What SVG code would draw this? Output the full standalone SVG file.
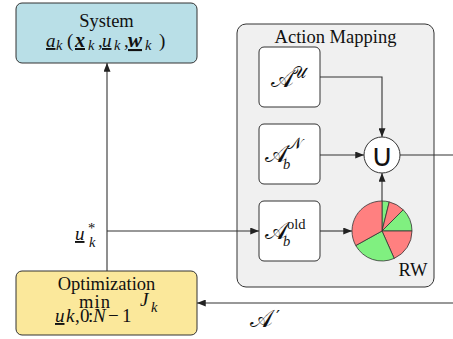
<svg xmlns="http://www.w3.org/2000/svg" width="453" height="339" viewBox="0 0 453 339">
  <defs>
    <marker id="arrow" viewBox="0 0 10 8" refX="10" refY="4" markerWidth="9" markerHeight="7" markerUnits="userSpaceOnUse" orient="auto">
      <path d="M0,0 L10,4 L0,8 z" fill="#222"/>
    </marker>
    <style>
      .txt { font-family: "Liberation Serif", "DejaVu Serif", serif; font-size: 18.5px; fill: #111; }
      .m { font-family: "Liberation Serif", "DejaVu Serif", serif; font-style: italic; font-size: 19px; fill: #111; }
      .cal { font-family: "DejaVu Sans", "Liberation Serif", serif; font-style: normal; font-size: 24px; }
      .calsup { font-family: "DejaVu Sans", "Liberation Serif", serif; font-style: normal; font-size: 16px; }
      .up { font-style: normal; }
      .sub { font-size: 14.5px; }
      .ul { text-decoration: underline; }
      .b { font-weight: bold; }
      .conn { fill: none; stroke: #333; stroke-width: 1.1; }
      .box { fill: #fff; stroke: #333; stroke-width: 1; }
      .red { fill: #ff8080; stroke: #333; stroke-width: 0.8; }
      .green { fill: #80f080; stroke: #333; stroke-width: 0.8; }
    </style>
  </defs>

  <!-- Action mapping container -->
  <g id="action-mapping">
    <rect x="237" y="24" width="197" height="263" rx="9" fill="#f0f0f0" stroke="#333" stroke-width="1"/>
    <text class="txt" x="335.5" y="43" text-anchor="middle">Action Mapping</text>
    <text class="txt" x="413" y="276" text-anchor="middle" font-size="19.5">RW</text>
  </g>

  <!-- Connectors -->
  <g id="connectors">
    <path class="conn" d="M107,271 V63" marker-end="url(#arrow)"/>
    <path class="conn" d="M107,231 H259" marker-end="url(#arrow)"/>
    <path class="conn" d="M320,77 H382 V137" marker-end="url(#arrow)"/>
    <path class="conn" d="M320,155 H364" marker-end="url(#arrow)"/>
    <path class="conn" d="M400,155 H453"/>
    <path class="conn" d="M382,201 V173" marker-end="url(#arrow)"/>
    <path class="conn" d="M320,231 H352" marker-end="url(#arrow)"/>
    <path class="conn" d="M453,303 H197" marker-end="url(#arrow)" stroke="#555"/>
  </g>

  <!-- System -->
  <g id="system">
    <rect x="16" y="3" width="181" height="60" rx="6" fill="#b9dfe7" stroke="#333" stroke-width="1"/>
    <text class="txt" x="106.5" y="27" text-anchor="middle">System</text>
    <text class="m" y="47"><tspan class="ul" x="46">a</tspan><tspan class="sub" x="56" y="50">k</tspan><tspan class="up" x="67" y="47">(</tspan><tspan class="ul b" x="75" font-size="20">x</tspan><tspan class="sub" x="88" y="50">k</tspan><tspan class="up" x="98" y="47">,</tspan><tspan class="ul" x="102">u</tspan><tspan class="sub" x="114" y="50">k</tspan><tspan class="up" x="124" y="47">,</tspan><tspan class="ul b" x="128" font-size="21">w</tspan><tspan class="sub" x="145" y="50">k</tspan><tspan class="up" x="159" y="47">)</tspan></text>
  </g>

  <!-- Optimization -->
  <g id="optimization">
    <rect x="16" y="271" width="181" height="64" rx="6" fill="#fbe89b" stroke="#333" stroke-width="1"/>
    <text class="txt" x="106.5" y="290" text-anchor="middle">Optimization</text>
    <text class="txt" x="79" y="307.5" font-size="19" textLength="31">min</text>
    <text class="m" x="140" y="306">J<tspan class="sub" x="151" y="312">k</tspan></text>
    <text class="m" y="322" font-size="14"><tspan class="ul" x="55">u</tspan><tspan x="66">k</tspan><tspan class="up" x="75">,</tspan><tspan class="up" x="80">0</tspan><tspan class="up" x="88">:</tspan><tspan x="93">N</tspan><tspan class="up" x="108">−</tspan><tspan class="up" x="122">1</tspan></text>
  </g>

  <!-- Input label -->
  <g id="u-star-label">
    <text class="m" y="240"><tspan class="ul" x="75">u</tspan><tspan class="sub up" x="88" y="233">*</tspan><tspan class="sub" x="89" y="247">k</tspan></text>
  </g>

  <!-- A' label -->
  <g id="a-prime-label">
    <text class="m" y="327"><tspan class="cal" x="250">𝒜</tspan></text>
    <text x="276" y="323" font-family="DejaVu Sans, sans-serif" font-size="18" fill="#111">′</text>
  </g>

  <!-- A^U -->
  <g id="a-u">
    <rect class="box" x="259" y="47" width="61" height="60" rx="5"/>
    <text class="m" y="87"><tspan class="cal" x="271">𝒜</tspan><tspan class="calsup" x="292" y="78">𝒰</tspan></text>
  </g>

  <!-- A_b^N -->
  <g id="a-b-n">
    <rect class="box" x="259" y="124" width="61" height="60" rx="5"/>
    <text class="m" y="162"><tspan class="cal" x="265">𝒜</tspan><tspan class="calsup" x="287" y="149">𝒩</tspan><tspan class="sub" x="283" y="169">b</tspan></text>
  </g>

  <!-- A_b^old -->
  <g id="a-b-old">
    <rect class="box" x="259" y="201" width="61" height="60" rx="5"/>
    <text class="m" y="239"><tspan class="cal" x="265">𝒜</tspan><tspan class="sub up" x="287" y="229">old</tspan><tspan class="sub" x="283" y="246">b</tspan></text>
  </g>

  <!-- Union node -->
  <g id="union">
    <circle cx="382" cy="155" r="18" fill="#fff" stroke="#333" stroke-width="1"/>
    <text x="382" y="166" text-anchor="middle" font-family="DejaVu Sans, sans-serif" font-size="31" fill="#111">∪</text>
  </g>

  <!-- Random-walk pie -->
  <g id="rw-pie">
    <path class="green" d="M382,231 L382,201 A30,30 0 0 1 389.26,201.9 Z"/>
    <path class="red" d="M382,231 L389.26,201.9 A30,30 0 0 1 403.21,209.79 Z"/>
    <path class="green" d="M382,231 L403.21,209.79 A30,30 0 0 1 412,231 Z"/>
    <path class="red" d="M382,231 L412,231 A30,30 0 0 1 394.2,258.4 Z"/>
    <path class="green" d="M382,231 L394.2,258.4 A30,30 0 0 1 355.76,245.54 Z"/>
    <path class="red" d="M382,231 L355.76,245.54 A30,30 0 0 1 382,201 Z"/>
  </g>
</svg>
